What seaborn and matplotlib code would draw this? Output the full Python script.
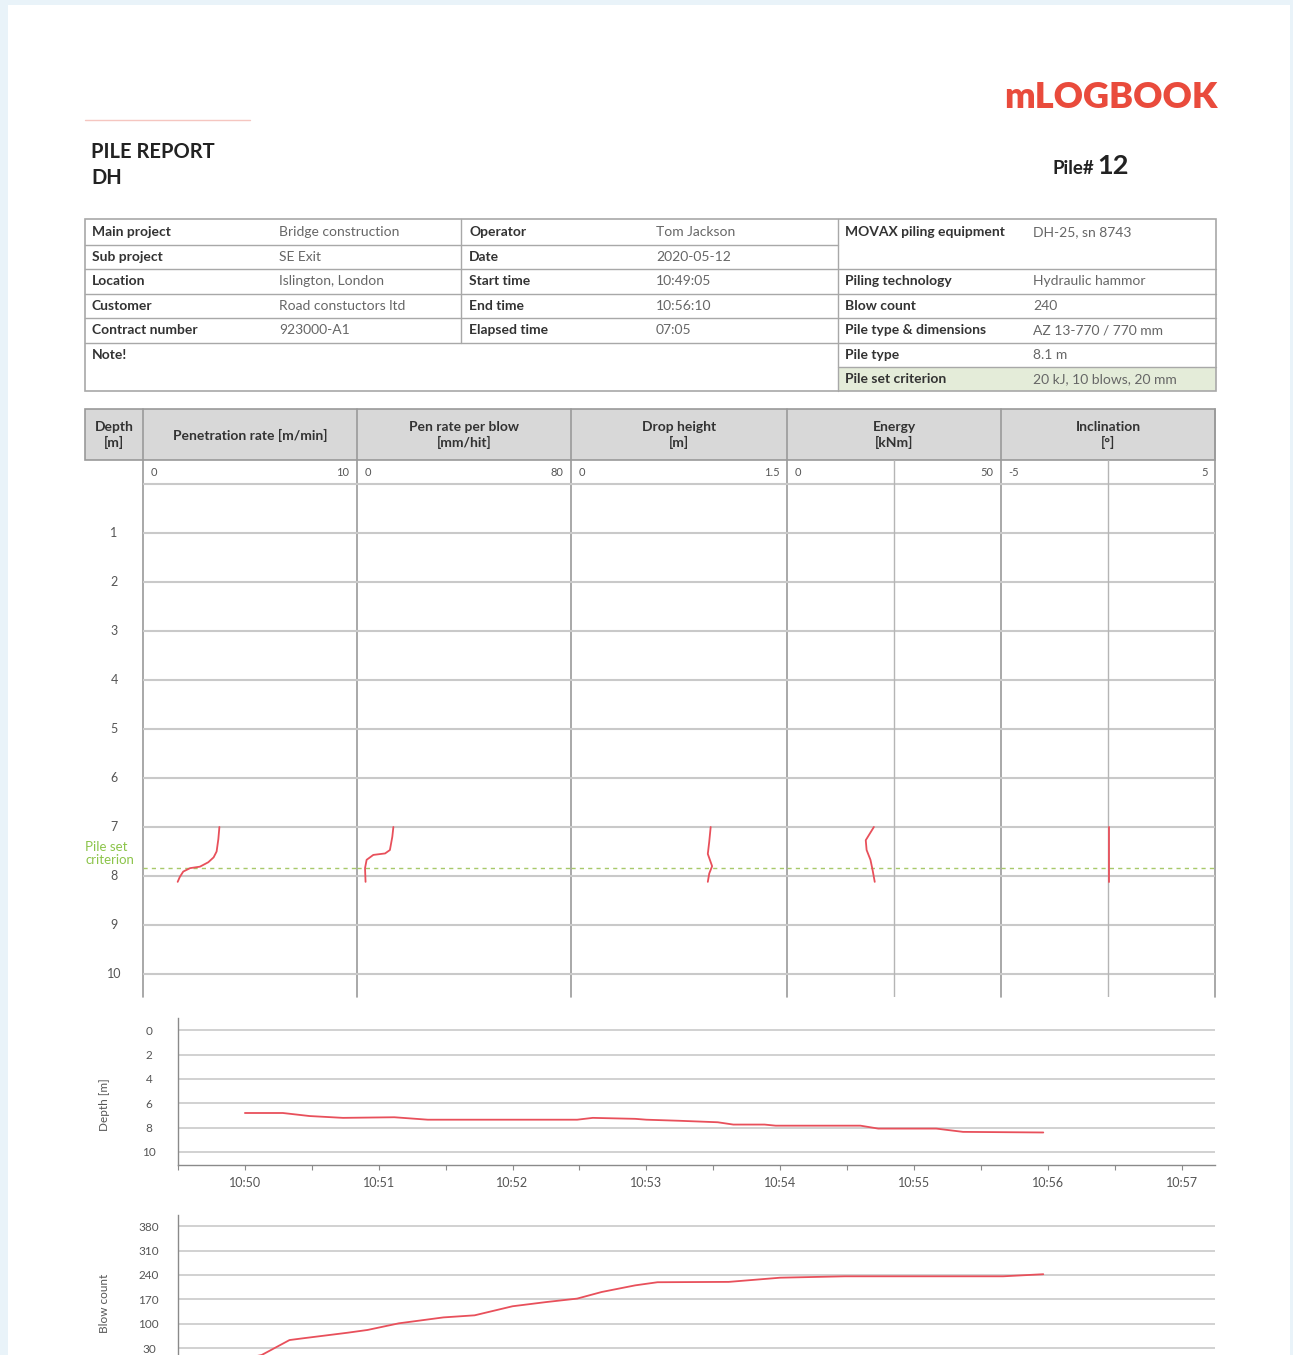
import numpy as np
import pandas as pd
import matplotlib
matplotlib.use("Agg")
import matplotlib.pyplot as plt
import matplotlib.dates as mdates
from matplotlib.patches import Rectangle
import seaborn as sns

sns.set_theme(style="white")
plt.rcParams['font.family'] = ['Lato', 'DejaVu Sans']

# ---------------- report data ----------------
report_title = "PILE REPORT"
report_sub = "DH"
brand = "mLOGBOOK"
pile_no = "12"

info_left_labels = ["Main project", "Sub project", "Location", "Customer", "Contract number"]
info_left_values = ["Bridge construction", "SE Exit", "Islington, London", "Road constuctors ltd", "923000-A1"]
info_mid_labels = ["Operator", "Date", "Start time", "End time", "Elapsed time"]
info_mid_values = ["Tom Jackson", "2020-05-12", "10:49:05", "10:56:10", "07:05"]
info_right_labels = ["MOVAX piling equipment", "Piling technology", "Blow count",
                     "Pile type & dimensions", "Pile type", "Pile set criterion"]
info_right_values = ["DH-25, sn 8743", "Hydraulic hammor", "240",
                     "AZ 13-770 / 770 mm", "8.1 m", "20 kJ, 10 blows, 20 mm"]

column_titles = ["Penetration rate [m/min]", "Pen rate per blow\n[mm/hit]",
                 "Drop height\n[m]", "Energy\n[kNm]", "Inclination\n[°]"]
column_ranges = [(0, 10), (0, 80), (0, 1.5), (0, 50), (-5, 5)]
depth_ticks = list(range(1, 11))
pile_set_depth = 7.84

# logged values against depth [m]
pen_rate_depth = [7.00, 7.25, 7.50, 7.62, 7.72, 7.81, 7.84, 7.91, 8.02, 8.12]
pen_rate = [3.57, 3.52, 3.44, 3.30, 3.05, 2.66, 2.20, 1.88, 1.72, 1.62]
per_blow_depth = [7.00, 7.20, 7.47, 7.54, 7.57, 7.67, 7.84, 8.12]
per_blow = [13.6, 13.2, 12.3, 10.5, 6.1, 3.6, 3.0, 3.2]
drop_depth = [7.00, 7.30, 7.55, 7.80, 7.95, 8.12]
drop_height = [0.97, 0.96, 0.95, 0.98, 0.96, 0.95]
energy_depth = [7.00, 7.27, 7.47, 7.67, 7.88, 8.12]
energy = [20.3, 18.4, 18.6, 19.5, 20.0, 20.5]
incl_depth = [7.00, 8.12]
inclination = [0.05, 0.05]

# logged values against time (seconds after 10:50:00)
depth_time_s = [0, 17, 29, 44, 67, 82, 149, 156, 175, 180, 195, 212, 219, 233, 238, 276, 284, 310, 322, 358]
depth_time_m = [6.80, 6.80, 7.05, 7.20, 7.15, 7.35, 7.35, 7.20, 7.28, 7.35, 7.44, 7.56, 7.75,
                7.75, 7.84, 7.84, 8.08, 8.08, 8.35, 8.40]
blow_time_s = [0, 7.5, 20, 26, 46, 55, 69, 89, 103, 120, 135, 149, 160, 175, 185, 217, 240, 269, 340, 358]
blow_counts = [0, 10, 53, 58, 74, 82, 101, 118, 124, 150, 162, 172, 191, 210, 219, 220, 232, 236, 236, 242]
depth_time_ticks = [0, 2, 4, 6, 8, 10]
blow_ticks = [30, 100, 170, 240, 310, 380]

t0 = pd.Timestamp("2020-05-12 10:50:00")

RED = "#e8505b"
GRID = "#c9c9c9"
SEP = "#9a9a9a"
TXT = "#333333"
VAL = "#666666"

W, H = 1293, 1355
fig = plt.figure(figsize=(W / 100, H / 100), dpi=100, facecolor="#e9f3f9")


def box(l, t, r, b):
    return [l / W, 1 - b / H, (r - l) / W, (b - t) / H]


# page canvas in pixel units
page = fig.add_axes([0, 0, 1, 1])
page.set_xlim(0, W)
page.set_ylim(H, 0)
page.axis("off")
page.add_patch(Rectangle((8, 5), 1282, 1360, facecolor="white", edgecolor="none", zorder=0))
page.plot([85, 250], [120, 120], color="#f5c6c0", lw=1)

page.text(91, 152, report_title, fontsize=14.5, fontweight="bold", color="#222", va="center")
page.text(91, 178, report_sub, fontsize=14.5, fontweight="bold", color="#222", va="center")
page.text(1217, 97, brand, fontsize=26, fontweight="heavy", color="#e94b3c", va="center", ha="right")
page.text(1094, 168, "Pile#", fontsize=13.5, fontweight="bold", color="#222", va="center", ha="right")
page.text(1097, 166, pile_no, fontsize=19.5, fontweight="bold", color="#222", va="center", ha="left")

# ---------------- info table ----------------
row_lines = [219, 244.5, 269, 293.5, 318, 342.5, 367, 391]
row_mid = [(row_lines[i] + row_lines[i + 1]) / 2 for i in range(7)]
page.add_patch(Rectangle((838, 367), 378, 24, facecolor="#e4ecd9", edgecolor="none", zorder=1))
page.add_patch(Rectangle((85, 219), 1131, 172, facecolor="none", edgecolor="#a8a8a8", lw=1.2, zorder=2))
for y in row_lines[1:6]:
    page.plot([85, 838], [y, y], color="#a8a8a8", lw=1, zorder=2)
for y in row_lines[2:7]:
    page.plot([838, 1216], [y, y], color="#a8a8a8", lw=1, zorder=2)
page.plot([461, 461], [219, 342.5], color="#a8a8a8", lw=1, zorder=2)
page.plot([838, 838], [219, 391], color="#a8a8a8", lw=1, zorder=2)

tfs = 10
for i, (lab, val) in enumerate(zip(info_left_labels, info_left_values)):
    page.text(92, row_mid[i], lab, fontsize=tfs, fontweight="bold", color=TXT, va="center", zorder=3)
    page.text(279, row_mid[i], val, fontsize=tfs, color=VAL, va="center", zorder=3)
page.text(92, row_mid[5], "Note!", fontsize=tfs, fontweight="bold", color=TXT, va="center", zorder=3)
for i, (lab, val) in enumerate(zip(info_mid_labels, info_mid_values)):
    page.text(469, row_mid[i], lab, fontsize=tfs, fontweight="bold", color=TXT, va="center", zorder=3)
    page.text(656, row_mid[i], val, fontsize=tfs, color=VAL, va="center", zorder=3)
right_rows = [0, 2, 3, 4, 5, 6]
for r, lab, val in zip(right_rows, info_right_labels, info_right_values):
    page.text(845, row_mid[r], lab, fontsize=tfs, fontweight="bold", color=TXT, va="center", zorder=3)
    page.text(1033, row_mid[r], val, fontsize=tfs, color=VAL, va="center", zorder=3)

# ---------------- depth log header ----------------
col_edges = [143, 357, 571, 787, 1001, 1215]
page.add_patch(Rectangle((85, 409), 1130, 51, facecolor="#d8d8d8", edgecolor="#999", lw=1.2, zorder=1))
page.text(114, 435, "Depth\n[m]", fontsize=10, fontweight="bold", color=TXT,
          ha="center", va="center", linespacing=1.2, zorder=3)
for i, title in enumerate(column_titles):
    cx = (col_edges[i] + col_edges[i + 1]) / 2
    page.text(cx, 435, title, fontsize=10, fontweight="bold", color=TXT,
              ha="center", va="center", linespacing=1.2, zorder=3)
for x in col_edges[:-1]:
    page.plot([x, x], [409, 997], color=SEP, lw=1.2, zorder=2)
page.plot([1215, 1215], [409, 997], color=SEP, lw=1.2, zorder=2)

# depth scale column
ylim_depth = (10.47, -0.49)
ax_d = fig.add_axes(box(85, 460, 143, 997))
ax_d.patch.set_alpha(0)
ax_d.set_ylim(*ylim_depth)
ax_d.axis("off")
for d in depth_ticks:
    ax_d.text(0.5, d, str(d), transform=ax_d.get_yaxis_transform(), ha="center", va="center",
              fontsize=9, color="#555")
ax_d.text(0.0, 7.54, "Pile set\ncriterion", transform=ax_d.get_yaxis_transform(), ha="left",
          va="center", fontsize=9.5, color="#8cc44a", linespacing=1.05)

series = [(pen_rate, pen_rate_depth), (per_blow, per_blow_depth), (drop_height, drop_depth),
          (energy, energy_depth), (inclination, incl_depth)]
for i, ((vals, deps), (lo, hi)) in enumerate(zip(series, column_ranges)):
    ax = fig.add_axes(box(col_edges[i], 460, col_edges[i + 1], 997))
    ax.patch.set_alpha(0)
    ax.set_xlim(lo, hi)
    ax.set_ylim(*ylim_depth)
    for s in ax.spines.values():
        s.set_visible(False)
    ax.set_xticks([])
    ax.set_yticks([])
    for d in [0] + depth_ticks:
        ax.axhline(d, color=GRID, lw=1.5, zorder=1)
    if i >= 3:
        ax.axvline((lo + hi) / 2, color="#b5b5b5", lw=1, zorder=1)
    ax.axhline(pile_set_depth, color="#a8c96a", lw=1, ls=(0, (3, 3)), zorder=2)
    yt = ax.get_yaxis_transform()
    ax.text(0.035, -0.245, f"{lo:g}", transform=yt, ha="left", va="center", fontsize=8, color="#555")
    ax.text(0.965, -0.245, f"{hi:g}", transform=yt, ha="right", va="center", fontsize=8, color="#555")
    df = pd.DataFrame({"value": vals, "depth": deps})
    sns.lineplot(data=df, x="value", y="depth", ax=ax, sort=False, estimator=None,
                 color=RED, lw=1.3, zorder=3)
    ax.set_xlabel("")
    ax.set_ylabel("")

# ---------------- time charts ----------------
xmin = t0 - pd.Timedelta(seconds=30)
xmax = t0 + pd.Timedelta(seconds=435)


def style_time_axis(ax, ticks, label, label_y):
    ax.set_xlim(xmin, xmax)
    ax.xaxis.set_major_locator(mdates.MinuteLocator())
    ax.xaxis.set_minor_locator(mdates.SecondLocator(bysecond=[30]))
    ax.xaxis.set_major_formatter(mdates.DateFormatter("%H:%M"))
    ax.set_yticks(ticks)
    ax.yaxis.grid(True, color=GRID, lw=1.2)
    ax.xaxis.grid(False)
    for side in ["top", "right"]:
        ax.spines[side].set_visible(False)
    for side in ["left", "bottom"]:
        ax.spines[side].set_color("#8a8a8a")
        ax.spines[side].set_linewidth(1)
    ax.tick_params(axis="x", which="both", direction="out", length=3.6, width=0.8,
                   color="#8a8a8a", labelsize=9, labelcolor="#555", pad=5, bottom=True)
    ax.tick_params(axis="y", length=0, labelsize=8.5, labelcolor="#555", pad=21)
    for t in ax.get_yticklabels():
        t.set_horizontalalignment("center")
    ax.set_xlabel("")
    ax.set_ylabel(label, fontsize=8.5, color="#555")
    ax.yaxis.set_label_coords(-0.066, label_y)


ax_t1 = fig.add_axes(box(178, 1018, 1215, 1165))
ax_t1.patch.set_alpha(0)
df_depth = pd.DataFrame({"time": [t0 + pd.Timedelta(seconds=s) for s in depth_time_s],
                         "depth": depth_time_m})
sns.lineplot(data=df_depth, x="time", y="depth", ax=ax_t1, color=RED, lw=1.3, estimator=None)
ax_t1.set_ylim(11.07, -1.0)
style_time_axis(ax_t1, depth_time_ticks, "Depth [m]", 0.41)

ax_t2 = fig.add_axes(box(178, 1215, 1215, 1362))
ax_t2.patch.set_alpha(0)
df_blow = pd.DataFrame({"time": [t0 + pd.Timedelta(seconds=s) for s in blow_time_s],
                        "blows": blow_counts})
sns.lineplot(data=df_blow, x="time", y="blows", ax=ax_t2, color=RED, lw=1.3, estimator=None)
ax_t2.set_ylim(-10, 412)
style_time_axis(ax_t2, blow_ticks, "Blow count", 0.40)
# the time axis of this chart runs past the page edge
ax_t2.tick_params(axis="x", which="both", labelbottom=False, bottom=False)

fig.savefig("out.png", dpi=100, facecolor=fig.get_facecolor())
